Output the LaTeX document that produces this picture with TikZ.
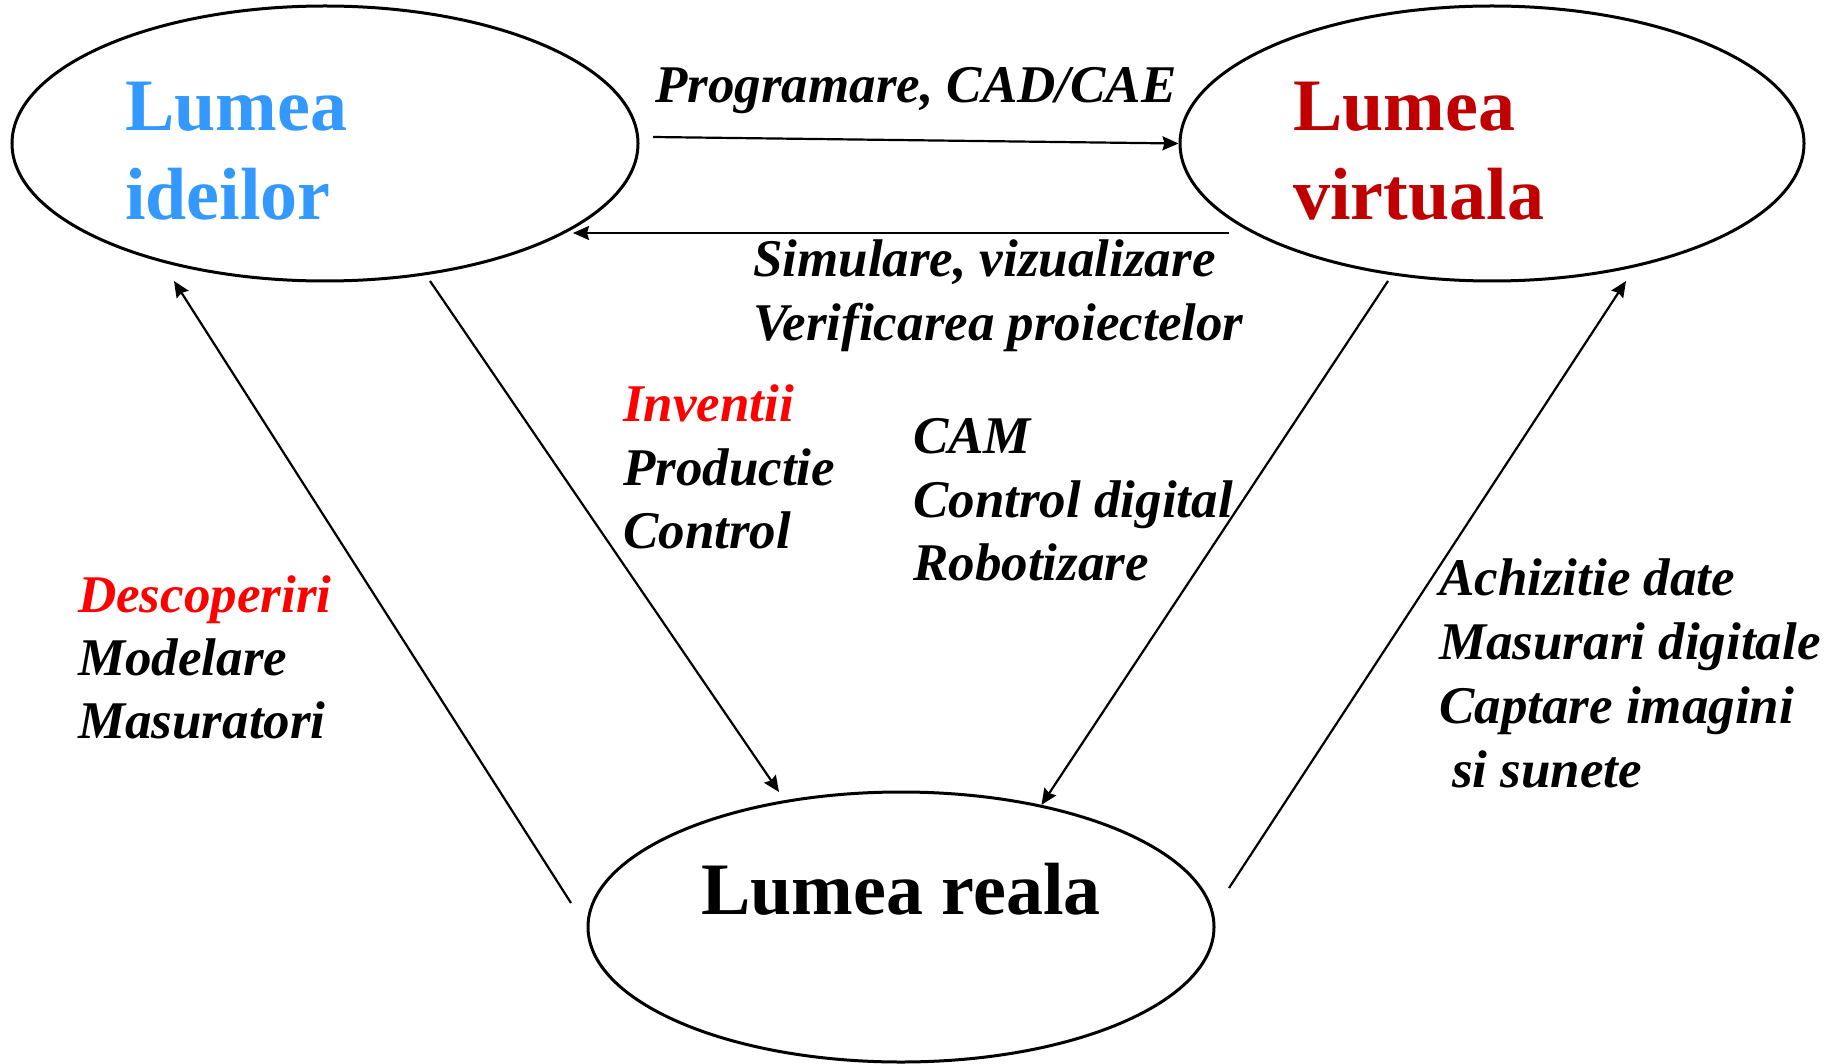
\documentclass[tikz,border=0pt]{standalone}
\usepackage{fontspec}
\setmainfont{Liberation Serif}
\usetikzlibrary{shapes.geometric,arrows.meta}
\definecolor{ideablue}{RGB}{51,153,255}
\definecolor{virtred}{RGB}{192,0,0}
\definecolor{labred}{RGB}{255,0,0}
\begin{document}
\begin{tikzpicture}[x=1pt,y=-1pt,
  world/.style={draw=black,line width=3pt,ellipse,inner sep=0pt},
  title/.style={anchor=base west,inner sep=0pt,font=\fontsize{74}{89}\selectfont\bfseries},
  lbl/.style={anchor=base west,inner sep=0pt,font=\fontsize{53}{64}\selectfont\bfseries\itshape},
  conn/.style={line width=2.2pt,-{Stealth[length=16pt,width=14pt,inset=2pt]}}]
\useasboundingbox (0,0) rectangle (1835,1064);

% worlds
\node[world,minimum width=626pt,minimum height=275pt] (e1) at (325,143.5) {};
\node[world,minimum width=624pt,minimum height=275pt] (e2) at (1492,143.5) {};
\node[world,minimum width=626pt,minimum height=270pt] (e3) at (901,927) {};

% titles
\node[title,text=ideablue] (t1a) at (125,131) {Lumea};
\node[title,text=ideablue] (t1b) at (125,220) {ideilor};
\node[title,text=virtred] (t2a) at (1293,131) {Lumea};
\node[title,text=virtred] (t2b) at (1293,220) {virtuala};
\node[title] (t3) at (701,914) {Lumea reala};

% labels
\node[lbl] (lprog) at (655,103) {Programare, CAD/CAE};
\node[lbl] (lsim1) at (753,277) {Simulare, vizualizare};
\node[lbl] (lsim2) at (753,341) {Verificarea proiectelor};
\node[lbl,text=labred] (linv1) at (623,421) {Inventii};
\node[lbl] (linv2) at (623,485) {Productie};
\node[lbl] (linv3) at (623,548) {Control};
\node[lbl] (lcam1) at (913,453) {CAM};
\node[lbl] (lcam2) at (913,517) {Control digital};
\node[lbl] (lcam3) at (913,580) {Robotizare};
\node[lbl,text=labred] (ldes1) at (78,612) {Descoperiri};
\node[lbl] (ldes2) at (78,675) {Modelare};
\node[lbl] (ldes3) at (78,738) {Masuratori};
\node[lbl] (lach1) at (1439,595) {Achizitie date};
\node[lbl] (lach2) at (1439,659) {Masurari digitale};
\node[lbl] (lach3) at (1439,723) {Captare imagini};
\node[lbl] (lach4) at (1452,787) {si sunete};

% connector ends
\coordinate (a1s) at (653,137);
\coordinate (a2s) at (1229,233);
\coordinate (a2e) at (573,233);
\coordinate (a3s) at (571,903);
\coordinate (a3e) at (174,281);
\coordinate (a4s) at (430,281);
\coordinate (a4e) at (779,792);
\coordinate (a5s) at (1388,281);
\coordinate (a6s) at (1229,888);
\coordinate (a6e) at (1626,281);

% connectors
\draw[conn] (a1s) -- (e2.west);
\draw[conn] (a2s) -- (a2e);
\draw[conn] (a3s) -- (a3e);
\draw[conn] (a4s) -- (a4e);
\draw[conn] (a5s) -- (e3.41.5);
\draw[conn] (a6s) -- (a6e);
\end{tikzpicture}
\end{document}
